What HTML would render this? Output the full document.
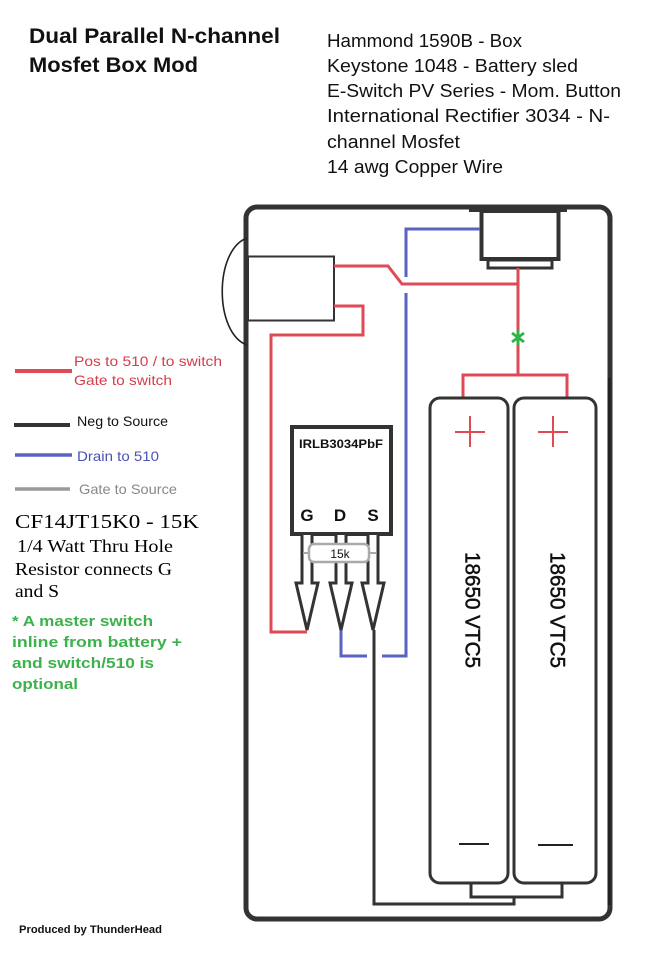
<!DOCTYPE html>
<html>
<head>
<meta charset="utf-8">
<style>
  html, body { margin: 0; padding: 0; background: #ffffff; }
  body { width: 657px; height: 960px; overflow: hidden; }
  svg { display: block; }
  text { font-family: "Liberation Sans", "DejaVu Sans", sans-serif; }
  .serif { font-family: "Liberation Serif", serif; }
</style>
</head>
<body>
<svg width="657" height="960" viewBox="0 0 657 960" xmlns="http://www.w3.org/2000/svg">
  <rect x="0" y="0" width="657" height="960" fill="#ffffff"/>

  <!-- Title -->
  <text x="29" y="43" font-size="21" font-weight="bold" fill="#111" textLength="251" lengthAdjust="spacingAndGlyphs">Dual Parallel N-channel</text>
  <text x="29" y="72" font-size="21" font-weight="bold" fill="#111" textLength="169" lengthAdjust="spacingAndGlyphs">Mosfet Box Mod</text>

  <!-- Parts list -->
  <g font-size="18" fill="#111">
    <text x="327" y="47" textLength="195" lengthAdjust="spacingAndGlyphs">Hammond 1590B - Box</text>
    <text x="327" y="72" textLength="251" lengthAdjust="spacingAndGlyphs">Keystone 1048 - Battery sled</text>
    <text x="327" y="97" textLength="294" lengthAdjust="spacingAndGlyphs">E-Switch PV Series - Mom. Button</text>
    <text x="327" y="122" textLength="283" lengthAdjust="spacingAndGlyphs">International Rectifier 3034 - N-</text>
    <text x="327" y="148" textLength="133" lengthAdjust="spacingAndGlyphs">channel Mosfet</text>
    <text x="327" y="173" textLength="176" lengthAdjust="spacingAndGlyphs">14 awg Copper Wire</text>
  </g>

  <!-- Legend -->
  <line x1="15" y1="371" x2="72" y2="371" stroke="#de4a56" stroke-width="4"/>
  <text x="74" y="366" font-size="14" fill="#d63d4b" textLength="148" lengthAdjust="spacingAndGlyphs">Pos to 510 / to switch</text>
  <text x="74" y="385" font-size="14" fill="#d63d4b" textLength="98" lengthAdjust="spacingAndGlyphs">Gate to switch</text>

  <line x1="14" y1="425" x2="70" y2="425" stroke="#333" stroke-width="4"/>
  <text x="77" y="426" font-size="14" fill="#111" textLength="91" lengthAdjust="spacingAndGlyphs">Neg to Source</text>

  <line x1="15" y1="455" x2="72" y2="455" stroke="#5a62c2" stroke-width="3.5"/>
  <text x="77" y="461" font-size="14" fill="#4a52b0" textLength="82" lengthAdjust="spacingAndGlyphs">Drain to 510</text>

  <line x1="15" y1="489" x2="70" y2="489" stroke="#9a9a9a" stroke-width="3.5"/>
  <text x="79" y="494" font-size="14" fill="#888" textLength="98" lengthAdjust="spacingAndGlyphs">Gate to Source</text>

  <g fill="#000">
    <text class="serif" x="15" y="528" font-size="20" textLength="184" lengthAdjust="spacingAndGlyphs">CF14JT15K0 - 15K</text>
    <text class="serif" x="17" y="552" font-size="18" textLength="156" lengthAdjust="spacingAndGlyphs">1/4 Watt Thru Hole</text>
    <text class="serif" x="15" y="575" font-size="18" textLength="157" lengthAdjust="spacingAndGlyphs">Resistor connects G</text>
    <text class="serif" x="15" y="597" font-size="18" textLength="44" lengthAdjust="spacingAndGlyphs">and S</text>
  </g>

  <g font-size="15" font-weight="bold" fill="#3bb24b">
    <text x="12" y="626" textLength="141" lengthAdjust="spacingAndGlyphs">* A master switch</text>
    <text x="12" y="647" textLength="170" lengthAdjust="spacingAndGlyphs">inline from battery +</text>
    <text x="12" y="668" textLength="142" lengthAdjust="spacingAndGlyphs">and switch/510 is</text>
    <text x="12" y="689" textLength="66" lengthAdjust="spacingAndGlyphs">optional</text>
  </g>

  <text x="19" y="933" font-size="11" font-weight="bold" fill="#111" textLength="143" lengthAdjust="spacingAndGlyphs">Produced by ThunderHead</text>

  <!-- Box -->
  <rect x="246" y="207" width="364" height="712" rx="11" ry="11" fill="none" stroke="#333" stroke-width="5"/>
  <line x1="609" y1="378" x2="609" y2="905" stroke="#222" stroke-width="3"/>

  <!-- 510 connector -->
  <path d="M247,238 C214,250 214,333 247,345" fill="none" stroke="#222" stroke-width="1.6"/>
  <rect x="248" y="256.5" width="86" height="64" fill="#fff" stroke="#333" stroke-width="2"/>

  <!-- Button -->
  <rect x="469" y="205" width="98" height="7" fill="#333"/>
  <rect x="481.5" y="211" width="77" height="48" fill="#fff" stroke="#333" stroke-width="4"/>
  <rect x="488" y="260" width="64" height="8" fill="#fff" stroke="#333" stroke-width="3"/>

  <!-- Blue drain wire -->
  <g fill="none" stroke="#5a62c2" stroke-width="3">
    <polyline points="480,229 406,229 406,277"/>
    <polyline points="406,293 406,656 382,656"/>
    <polyline points="367,656 341,656 341,630"/>
  </g>

  <!-- Red wires -->
  <g fill="none" stroke="#de4a56" stroke-width="3">
    <polyline points="334,266 388,266 402,284 518,284"/>
    <line x1="518" y1="268" x2="518" y2="376"/>
    <polyline points="463,399 463,375 567,375 567,399"/>
    <polyline points="334,306 363,306 363,335 271,335 271,632 307,632"/>
  </g>

  <!-- Green asterisk -->
  <g stroke="#2fb34a" stroke-width="2.8">
    <line x1="518" y1="330" x2="518" y2="345"/>
    <line x1="512" y1="333" x2="524" y2="342"/>
    <line x1="512" y1="342" x2="524" y2="333"/>
  </g>

  <!-- Black source wire & battery link -->
  <g fill="none" stroke="#333" stroke-width="3">
    <polyline points="374,630 374,904 514,904 514,897"/>
    <polyline points="471,883 471,897 562,897 562,883"/>
  </g>

  <!-- Batteries -->
  <rect x="430" y="398" width="78" height="485" rx="10" ry="10" fill="#fff" stroke="#333" stroke-width="3"/>
  <rect x="514" y="398" width="82" height="485" rx="10" ry="10" fill="#fff" stroke="#333" stroke-width="3"/>
  <g stroke="#de4a56" stroke-width="2">
    <line x1="455" y1="432" x2="485" y2="432"/>
    <line x1="470" y1="416" x2="470" y2="447"/>
    <line x1="538" y1="432" x2="568" y2="432"/>
    <line x1="553" y1="416" x2="553" y2="447"/>
  </g>
  <g stroke="#222" stroke-width="2">
    <line x1="459" y1="844" x2="489" y2="844"/>
    <line x1="538" y1="845" x2="573" y2="845"/>
  </g>
  <text transform="translate(472,610) rotate(90)" text-anchor="middle" dominant-baseline="central" font-size="21" fill="#111" stroke="#111" stroke-width="0.5" textLength="116" lengthAdjust="spacingAndGlyphs">18650 VTC5</text>
  <text transform="translate(557,610) rotate(90)" text-anchor="middle" dominant-baseline="central" font-size="21" fill="#111" stroke="#111" stroke-width="0.5" textLength="116" lengthAdjust="spacingAndGlyphs">18650 VTC5</text>

  <!-- MOSFET -->
  <rect x="292" y="427" width="99" height="107" fill="#fff" stroke="#333" stroke-width="4"/>
  <text x="341" y="448" text-anchor="middle" font-size="12" font-weight="bold" fill="#111" textLength="84" lengthAdjust="spacingAndGlyphs">IRLB3034PbF</text>
  <g font-size="17" font-weight="bold" fill="#111" text-anchor="middle">
    <text x="307" y="521">G</text>
    <text x="340" y="521">D</text>
    <text x="373" y="521">S</text>
  </g>

  <!-- Pins -->
  <g fill="#fff" stroke="#333" stroke-width="3" stroke-linejoin="miter">
    <polyline points="302,535 302,583 296,583 307,630 318,583 312,583 312,535"/>
    <polyline points="336,535 336,583 330,583 341,630 352,583 346,583 346,535"/>
    <polyline points="368,535 368,583 362,583 373,630 384,583 378,583 378,535"/>
  </g>

  <!-- Resistor -->
  <line x1="303" y1="553" x2="376" y2="553" stroke="#aaa" stroke-width="2"/>
  <rect x="309" y="544" width="60" height="18" rx="5" ry="5" fill="#fff" stroke="#aaa" stroke-width="2.5"/>
  <text x="340" y="558" text-anchor="middle" font-size="12" fill="#111">15k</text>
</svg>
</body>
</html>
